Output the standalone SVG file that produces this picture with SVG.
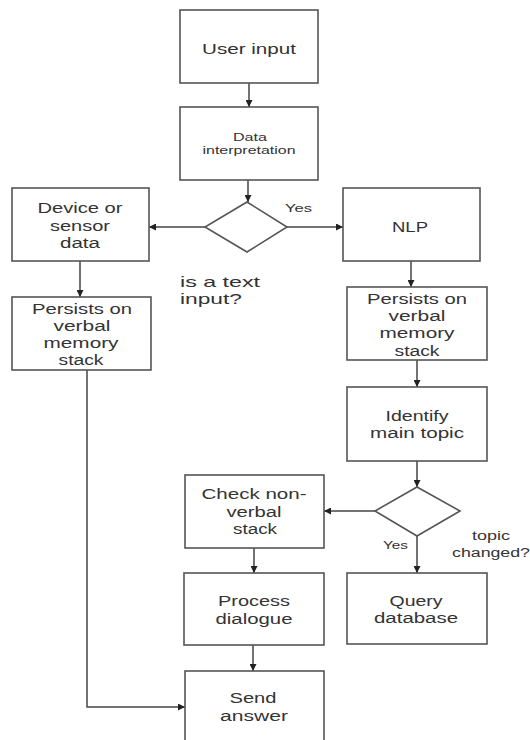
<svg xmlns="http://www.w3.org/2000/svg" width="530" height="740" viewBox="0 0 530 740">
<style>
.box{fill:#fff;stroke:#555;stroke-width:1.6}
.t{font-family:"Liberation Sans",Arial,sans-serif;font-size:14px;fill:#333;text-anchor:middle}
.s{font-size:10px}
.lbl{font-family:"Liberation Sans",Arial,sans-serif;fill:#333}
.c{fill:none;stroke:#444;stroke-width:1.5}
</style>
<defs>
<marker id="a" viewBox="0 0 10 10" refX="10" refY="5" markerWidth="7" markerHeight="7" markerUnits="userSpaceOnUse" orient="auto">
<path d="M0,0L10,5L0,10z" fill="#222"/>
</marker>
</defs>
<rect width="530" height="740" fill="#fff"/>
<g id="connectors">
<path class="c" d="M249,83V107" marker-end="url(#a)"/>
<path class="c" d="M248,180V202" marker-end="url(#a)"/>
<path class="c" d="M205,227H149" marker-end="url(#a)"/>
<path class="c" d="M287,227H343" marker-end="url(#a)"/>
<path class="c" d="M80,261V297" marker-end="url(#a)"/>
<path class="c" d="M87,370V707H185" marker-end="url(#a)"/>
<path class="c" d="M411,261V287" marker-end="url(#a)"/>
<path class="c" d="M417,360V387" marker-end="url(#a)"/>
<path class="c" d="M417,461V487" marker-end="url(#a)"/>
<path class="c" d="M375,511H324" marker-end="url(#a)"/>
<path class="c" d="M417,536V573" marker-end="url(#a)"/>
<path class="c" d="M254,548V573" marker-end="url(#a)"/>
<path class="c" d="M253,645V671" marker-end="url(#a)"/>
<text class="lbl" x="285" y="212" font-size="10" textLength="27" lengthAdjust="spacingAndGlyphs">Yes</text>
<text class="lbl" x="383" y="549" font-size="10" textLength="25" lengthAdjust="spacingAndGlyphs">Yes</text>
</g>
<g id="user-input"><rect class="box" x="180" y="10" width="138" height="73"/><text class="t" x="249" y="54" font-size="15" textLength="94" lengthAdjust="spacingAndGlyphs">User input</text></g>
<g id="data-interpretation"><rect class="box" x="180" y="107" width="138" height="73"/><text class="t s" x="250" y="141" textLength="34" lengthAdjust="spacingAndGlyphs">Data</text><text class="t s" x="249" y="154" textLength="93" lengthAdjust="spacingAndGlyphs">interpretation</text></g>
<g id="is-text"><path class="box" d="M247,202L287,227L247,252L205,227Z"/><text class="lbl" x="180" y="287" font-size="15" textLength="80" lengthAdjust="spacingAndGlyphs">is a text</text><text class="lbl" x="180" y="304" font-size="15" textLength="62" lengthAdjust="spacingAndGlyphs">input?</text></g>
<g id="device"><rect class="box" x="12" y="188" width="137" height="73"/><text class="t" x="80" y="213" textLength="85" lengthAdjust="spacingAndGlyphs">Device or</text><text class="t" x="80" y="231" textLength="60" lengthAdjust="spacingAndGlyphs">sensor</text><text class="t" x="80" y="248" textLength="40" lengthAdjust="spacingAndGlyphs">data</text></g>
<g id="nlp"><rect class="box" x="343" y="188" width="137" height="73"/><text class="t" x="410" y="232" textLength="36" lengthAdjust="spacingAndGlyphs">NLP</text></g>
<g id="persists-left"><rect class="box" x="12" y="297" width="139" height="73"/><text class="t" x="82" y="314" textLength="100" lengthAdjust="spacingAndGlyphs">Persists on</text><text class="t" x="82" y="331" textLength="57" lengthAdjust="spacingAndGlyphs">verbal</text><text class="t" x="81" y="348" textLength="75" lengthAdjust="spacingAndGlyphs">memory</text><text class="t" x="81" y="365" textLength="45" lengthAdjust="spacingAndGlyphs">stack</text></g>
<g id="persists-right"><rect class="box" x="347" y="287" width="140" height="73"/><text class="t" x="417" y="304" textLength="100" lengthAdjust="spacingAndGlyphs">Persists on</text><text class="t" x="417" y="321" textLength="57" lengthAdjust="spacingAndGlyphs">verbal</text><text class="t" x="417" y="338" textLength="75" lengthAdjust="spacingAndGlyphs">memory</text><text class="t" x="417" y="356" textLength="45" lengthAdjust="spacingAndGlyphs">stack</text></g>
<g id="identify"><rect class="box" x="347" y="387" width="140" height="74"/><text class="t" x="417" y="421" textLength="63" lengthAdjust="spacingAndGlyphs">Identify</text><text class="t" x="417" y="438" textLength="94" lengthAdjust="spacingAndGlyphs">main topic</text></g>
<g id="topic-changed"><path class="box" d="M417,487L460,511L417,536L375,511Z"/><text class="lbl" x="491" y="540" font-size="12" text-anchor="middle" textLength="38" lengthAdjust="spacingAndGlyphs">topic</text><text class="lbl" x="491" y="557" font-size="12" text-anchor="middle" textLength="78" lengthAdjust="spacingAndGlyphs">changed?</text></g>
<g id="check-nonverbal"><rect class="box" x="185" y="475" width="139" height="73"/><text class="t" x="254" y="499" textLength="105" lengthAdjust="spacingAndGlyphs">Check non-</text><text class="t" x="254" y="517" textLength="55" lengthAdjust="spacingAndGlyphs">verbal</text><text class="t" x="255" y="534" textLength="44" lengthAdjust="spacingAndGlyphs">stack</text></g>
<g id="query"><rect class="box" x="347" y="573" width="140" height="71"/><text class="t" x="416" y="606" textLength="53" lengthAdjust="spacingAndGlyphs">Query</text><text class="t" x="416" y="623" textLength="84" lengthAdjust="spacingAndGlyphs">database</text></g>
<g id="process"><rect class="box" x="184" y="573" width="140" height="72"/><text class="t" x="254" y="606" textLength="72" lengthAdjust="spacingAndGlyphs">Process</text><text class="t" x="254" y="624" textLength="77" lengthAdjust="spacingAndGlyphs">dialogue</text></g>
<g id="send"><rect class="box" x="185" y="671" width="139" height="72"/><text class="t" x="253" y="703" textLength="47" lengthAdjust="spacingAndGlyphs">Send</text><text class="t" x="254" y="721" textLength="68" lengthAdjust="spacingAndGlyphs">answer</text></g>
</svg>
